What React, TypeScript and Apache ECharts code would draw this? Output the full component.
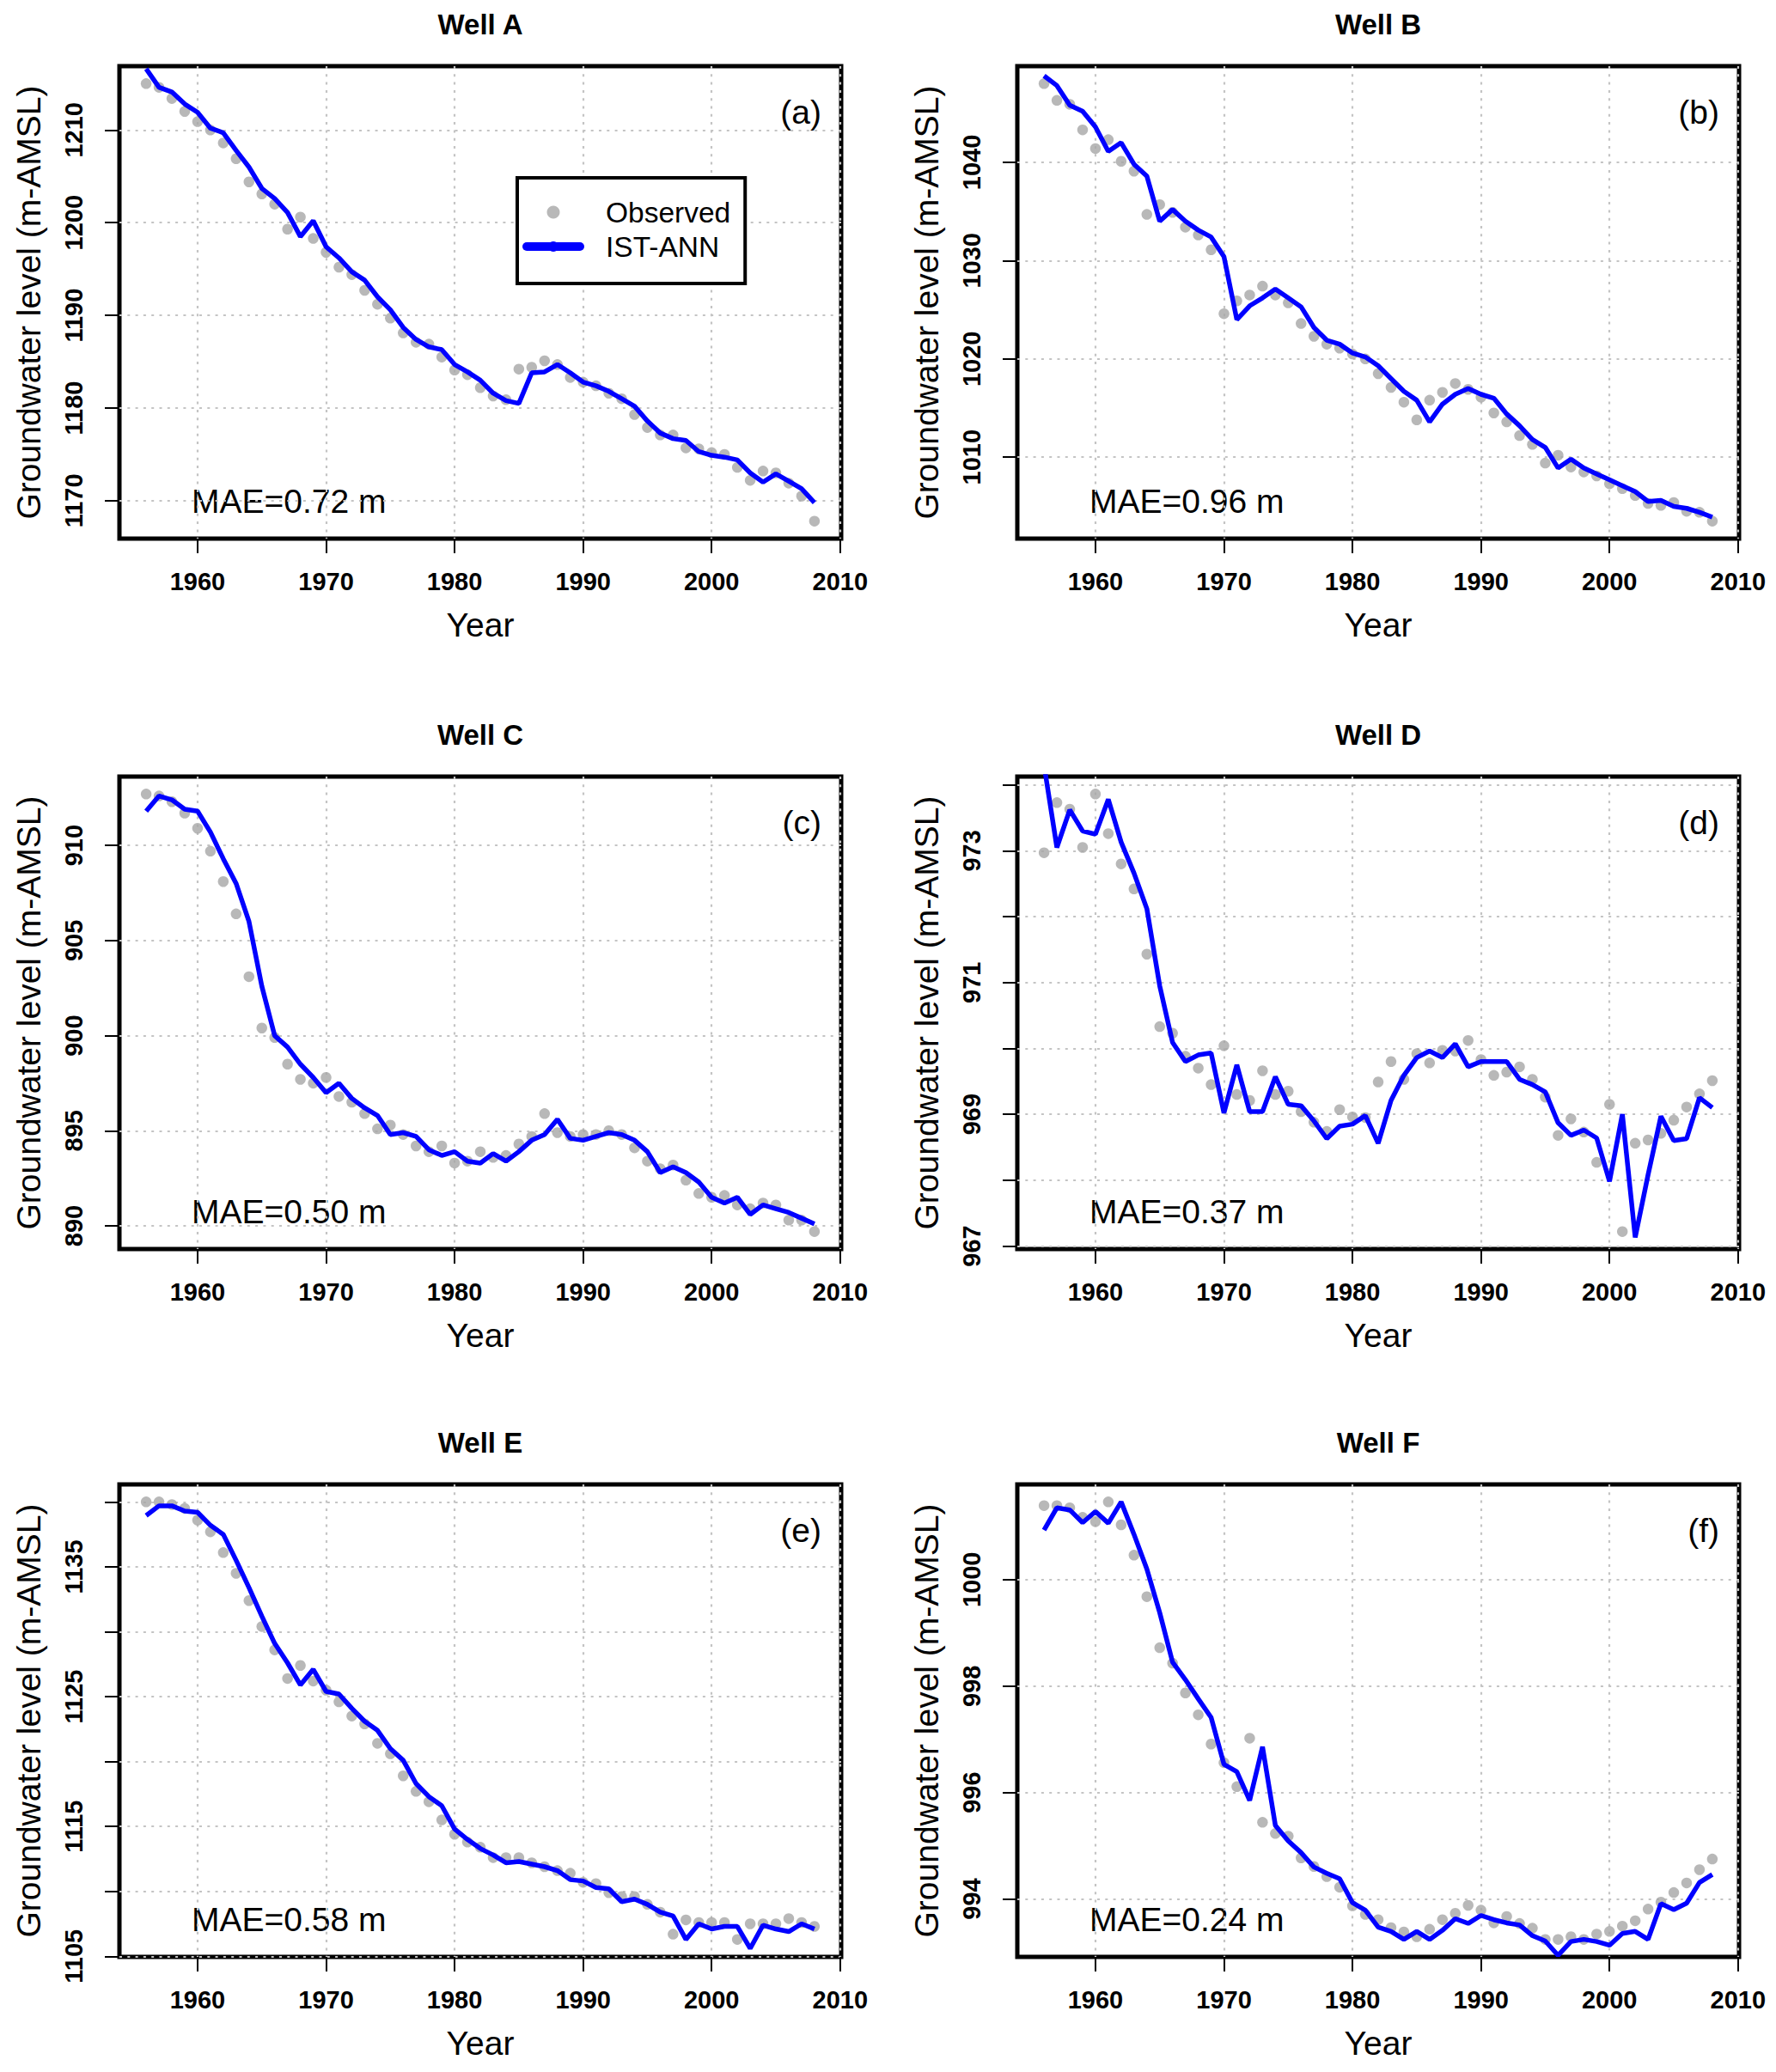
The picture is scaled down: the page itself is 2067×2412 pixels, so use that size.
import React, { useEffect, useRef } from "react";
import * as echarts from "echarts";

const years = [
  1956, 1957, 1958, 1959, 1960, 1961, 1962, 1963, 1964, 1965,
  1966, 1967, 1968, 1969, 1970, 1971, 1972, 1973, 1974, 1975,
  1976, 1977, 1978, 1979, 1980, 1981, 1982, 1983, 1984, 1985,
  1986, 1987, 1988, 1989, 1990, 1991, 1992, 1993, 1994, 1995,
  1996, 1997, 1998, 1999, 2000, 2001, 2002, 2003, 2004, 2005,
  2006, 2007, 2008,
];

const obsA = [1215.0,1214.6,1213.4,1212.0,1210.9,1210.0,1208.6,1206.9,1204.4,1203.1,1202.0,1199.3,1200.6,1198.3,1196.8,1195.2,1194.4,1192.7,1191.2,1189.7,1188.1,1187.1,1186.9,1185.5,1184.1,1183.6,1182.2,1181.3,1180.9,1184.2,1184.4,1185.1,1184.7,1183.3,1182.8,1182.4,1181.6,1181.0,1179.3,1177.9,1177.1,1177.1,1175.7,1175.6,1175.2,1175.0,1173.6,1172.2,1173.2,1173.0,1171.9,1170.5,1167.8];
const annA = [1216.6,1214.6,1214.1,1212.8,1211.9,1210.2,1209.7,1207.8,1206.0,1203.7,1202.6,1201.1,1198.5,1200.2,1197.4,1196.2,1194.7,1193.8,1192.0,1190.6,1188.7,1187.4,1186.6,1186.3,1184.7,1183.9,1183.0,1181.6,1180.8,1180.5,1183.8,1183.9,1184.7,1183.8,1182.8,1182.4,1181.8,1181.0,1180.2,1178.6,1177.3,1176.7,1176.5,1175.3,1174.9,1174.7,1174.4,1173.0,1172.0,1172.9,1172.1,1171.3,1169.8];

const obsB = [1048.0,1046.3,1045.9,1043.3,1041.4,1042.3,1040.1,1039.1,1034.7,1035.7,1034.9,1033.4,1032.6,1031.1,1024.6,1025.9,1026.5,1027.4,1026.5,1025.7,1023.6,1022.3,1021.5,1021.1,1020.5,1020.0,1018.5,1017.1,1015.6,1013.8,1015.8,1016.6,1017.5,1016.9,1016.1,1014.5,1013.6,1012.2,1011.3,1009.4,1010.2,1009.0,1008.5,1008.1,1007.3,1006.8,1006.1,1005.3,1005.1,1005.4,1004.5,1004.4,1003.5];
const annB = [1048.8,1047.8,1045.8,1045.2,1043.6,1041.1,1042.0,1039.8,1038.6,1034.0,1035.2,1034.0,1033.1,1032.4,1030.4,1024.0,1025.4,1026.2,1027.1,1026.2,1025.3,1023.2,1021.9,1021.5,1020.6,1020.2,1019.3,1018.0,1016.7,1015.8,1013.6,1015.4,1016.4,1017.0,1016.4,1016.0,1014.4,1013.2,1011.8,1011.0,1008.9,1009.8,1008.9,1008.3,1007.7,1007.1,1006.5,1005.5,1005.6,1005.0,1004.8,1004.4,1003.9];

const obsC = [912.7,912.6,912.3,911.7,910.9,909.7,908.1,906.4,903.1,900.4,899.9,898.5,897.7,897.5,897.8,896.8,896.5,895.9,895.1,895.3,894.8,894.2,893.9,894.2,893.3,893.4,893.9,893.6,893.7,894.3,894.7,895.9,894.9,894.7,894.8,894.8,895.0,894.8,894.1,893.4,893.0,893.2,892.4,891.7,891.5,891.6,891.1,890.9,891.2,891.1,890.3,890.3,889.7];
const annC = [911.8,912.6,912.4,911.9,911.8,910.7,909.3,908.0,906.0,902.6,900.0,899.4,898.5,897.8,897.0,897.5,896.7,896.2,895.8,894.8,894.9,894.7,894.0,893.7,893.9,893.4,893.3,893.8,893.4,893.9,894.5,894.8,895.6,894.6,894.5,894.7,894.9,894.8,894.5,893.9,892.8,893.1,892.8,892.3,891.5,891.2,891.5,890.6,891.1,890.9,890.7,890.4,890.1];

const obsD = [972.97,973.73,973.63,973.05,973.86,973.26,972.80,972.42,971.43,970.33,970.23,969.88,969.70,969.45,970.04,969.30,969.21,969.66,969.30,969.35,969.04,968.88,968.74,969.07,968.96,968.95,969.49,969.80,969.53,969.92,969.78,969.97,969.96,970.12,969.83,969.59,969.64,969.72,969.53,969.26,968.68,968.93,968.73,968.27,969.15,967.22,968.56,968.61,968.71,968.91,969.11,969.31,969.51];
const annD = [974.3,973.05,973.62,973.30,973.25,973.78,973.13,972.66,972.12,970.95,970.09,969.80,969.90,969.93,969.02,969.75,969.04,969.04,969.57,969.15,969.13,968.90,968.63,968.82,968.85,968.98,968.56,969.21,969.59,969.86,969.96,969.86,970.07,969.72,969.80,969.80,969.80,969.53,969.45,969.34,968.87,968.68,968.76,968.64,967.98,969.00,967.13,968.08,968.97,968.60,968.63,969.25,969.10];

const obsE = [1140.0,1140.0,1139.8,1139.5,1138.6,1137.7,1136.1,1134.5,1132.4,1130.4,1128.6,1126.4,1127.4,1126.2,1125.5,1124.6,1123.5,1122.9,1121.4,1120.6,1118.9,1117.7,1116.9,1115.5,1114.4,1113.8,1113.4,1112.6,1112.6,1112.6,1112.2,1111.9,1111.6,1111.4,1110.7,1110.6,1109.9,1109.6,1109.6,1109.0,1108.4,1106.7,1107.8,1107.6,1107.6,1107.6,1106.3,1107.5,1107.5,1107.5,1107.9,1107.6,1107.3];
const annE = [1138.95,1139.7,1139.7,1139.3,1139.2,1138.2,1137.5,1135.5,1133.4,1131.2,1129.1,1127.6,1125.9,1127.1,1125.4,1125.2,1124.1,1123.1,1122.4,1121.0,1120.1,1118.3,1117.3,1116.6,1114.8,1114.0,1113.3,1112.8,1112.2,1112.3,1112.1,1111.9,1111.6,1110.9,1110.8,1110.3,1110.2,1109.2,1109.4,1109.0,1108.4,1108.1,1106.3,1107.5,1107.1,1107.3,1107.3,1105.6,1107.4,1107.1,1106.9,1107.5,1107.1];

const obsF = [1001.39,1001.39,1001.35,1001.17,1001.09,1001.46,1001.03,1000.46,999.68,998.72,998.43,997.87,997.46,996.91,996.56,996.11,997.02,995.44,995.23,995.18,994.77,994.61,994.42,994.22,993.87,993.71,993.61,993.46,993.38,993.29,993.43,993.61,993.73,993.88,993.79,993.55,993.67,993.54,993.45,993.24,993.24,993.29,993.24,993.34,993.39,993.49,993.59,993.81,993.94,994.12,994.30,994.55,994.75];
const annF = [1000.93,1001.35,1001.31,1001.07,1001.28,1001.06,1001.46,1000.85,1000.20,999.38,998.45,998.12,997.76,997.41,996.53,996.39,995.85,996.86,995.38,995.09,994.87,994.60,994.48,994.38,993.93,993.79,993.47,993.39,993.24,993.39,993.24,993.41,993.63,993.54,993.69,993.61,993.55,993.51,993.31,993.21,992.94,993.20,993.24,993.20,993.13,993.35,993.39,993.24,993.91,993.80,993.92,994.31,994.46];

const xTicks = [1960, 1970, 1980, 1990, 2000, 2010];
const yTicksA = [1170, 1180, 1190, 1200, 1210];
const yTicksB = [1010, 1020, 1030, 1040];
const yTicksC = [890, 895, 900, 905, 910];
const yTicksD = [967, 968, 969, 970, 971, 972, 973, 974];
const yLabelsD = [967, 969, 971, 973];
const yTicksE = [1105, 1110, 1115, 1120, 1125, 1130, 1135, 1140];
const yLabelsE = [1105, 1115, 1125, 1135];
const yTicksF = [994, 996, 998, 1000];

const wellTitles = ["Well A", "Well B", "Well C", "Well D", "Well E", "Well F"];
const panelLetters = ["(a)", "(b)", "(c)", "(d)", "(e)", "(f)"];
const maeTexts = ["MAE=0.72 m", "MAE=0.96 m", "MAE=0.50 m", "MAE=0.37 m", "MAE=0.58 m", "MAE=0.24 m"];
const seriesNames = ["Observed", "IST-ANN"];

const obsAll = [obsA, obsB, obsC, obsD, obsE, obsF];
const annAll = [annA, annB, annC, annD, annE, annF];
const yTickAll = [yTicksA, yTicksB, yTicksC, yTicksD, yTicksE, yTicksF];
const yLabelAll = [yTicksA, yTicksB, yTicksC, yLabelsD, yLabelsE, yTicksF];

const FONT = '"Liberation Sans", Arial, Helvetica, sans-serif';
const colLeft = [139, 1184];
const rowTop = [77, 904, 1728];
const gridW = 840;
const gridH = 550;

function rangeR(vals: number[]): [number, number] {
  const lo = Math.min(...vals);
  const hi = Math.max(...vals);
  const pad = (hi - lo) * 0.04;
  return [lo - pad, hi + pad];
}

export default function App() {
  const ref = useRef<HTMLDivElement>(null);
  useEffect(() => {
    document.body.style.margin = "0";
    document.body.style.overflow = "hidden";
    if (!ref.current) return;
    const chart = echarts.init(ref.current, undefined, { renderer: "svg" });
    const xr = rangeR(years);
    const grids: any[] = [];
    const xAxes: any[] = [];
    const yAxes: any[] = [];
    const series: any[] = [];
    const graphics: any[] = [];
    const gridLineStyle = { color: "#c4c4c4", width: 2.2, type: [3, 6.3] };
    for (let i = 0; i < 6; i++) {
      const left = colLeft[i % 2];
      const top = rowTop[Math.floor(i / 2)];
      grids.push({
        left, top, width: gridW, height: gridH,
        show: true, borderColor: "#000", borderWidth: 5,
        backgroundColor: "transparent", containLabel: false,
      });
      xAxes.push({
        type: "value", gridIndex: i, min: xr[0], max: xr[1],
        name: "Year", nameLocation: "middle", nameGap: 81,
        nameTextStyle: { fontSize: 39, fontFamily: FONT, color: "#000" },
        axisLine: { show: false },
        axisTick: { show: true, inside: false, length: 17, customValues: xTicks, lineStyle: { color: "#000", width: 2 } },
        axisLabel: { customValues: xTicks, margin: 35, fontSize: 29, fontWeight: "bold", fontFamily: FONT, color: "#000", formatter: (v: number) => String(v) },
        splitLine: { show: true, lineStyle: gridLineStyle },
      });
      const yr = rangeR(obsAll[i]);
      yAxes.push({
        type: "value", gridIndex: i, min: yr[0], max: yr[1],
        name: "Groundwater level (m-AMSL)", nameLocation: "middle", nameGap: 86, nameRotate: 90,
        nameTextStyle: { fontSize: 39, fontFamily: FONT, color: "#000" },
        axisLine: { show: false },
        axisTick: { show: true, inside: false, length: 17, customValues: yTickAll[i], lineStyle: { color: "#000", width: 2 } },
        axisLabel: { customValues: yLabelAll[i], rotate: 90, margin: 39, fontSize: 29, fontWeight: "bold", fontFamily: FONT, color: "#000", formatter: (v: number) => String(Math.round(v)) },
        splitLine: { show: true, lineStyle: gridLineStyle },
      });
      series.push({
        type: "scatter", name: seriesNames[0], xAxisIndex: i, yAxisIndex: i,
        data: years.map((y, k) => [y, obsAll[i][k]]),
        symbol: "circle", symbolSize: 12.5,
        itemStyle: { color: "#a6a6a6" }, z: 2, silent: true,
      });
      series.push({
        type: "line", name: seriesNames[1], xAxisIndex: i, yAxisIndex: i,
        data: years.map((y, k) => [y, annAll[i][k]]),
        symbol: "none", showSymbol: false, clip: true,
        lineStyle: { color: "#0000ff", width: 5.5 }, itemStyle: { color: "#0000ff" }, z: 3, silent: true,
      });
      graphics.push({
        type: "text", x: left + gridW / 2, y: top - 49,
        style: { text: wellTitles[i], fill: "#000", font: `bold 33px ${FONT}`, align: "center", verticalAlign: "middle", textAlign: "center", textVerticalAlign: "middle" },
      });
      graphics.push({
        type: "text", x: left + gridW - 23, y: top + 53,
        style: { text: panelLetters[i], fill: "#000", font: `39px ${FONT}`, align: "right", verticalAlign: "middle", textAlign: "right", textVerticalAlign: "middle" },
      });
      graphics.push({
        type: "text", x: left + 84, y: top + gridH - 44,
        style: { text: maeTexts[i], fill: "#000", font: `39px ${FONT}`, align: "left", verticalAlign: "middle", textAlign: "left", textVerticalAlign: "middle" },
      });
    }
    chart.setOption({
      animation: false,
      backgroundColor: "#fff",
      grid: grids,
      xAxis: xAxes,
      yAxis: yAxes,
      series,
      graphic: graphics,
      legend: {
        data: [
          { name: seriesNames[0], icon: "circle" },
          { name: seriesNames[1], lineStyle: { width: 10, cap: "round" } },
        ],
        orient: "vertical", left: 602, top: 207,
        itemWidth: 62, itemHeight: 15, itemGap: 0,
        padding: [20, 17, 23, 6],
        borderColor: "#000", borderWidth: 4, backgroundColor: "#fff",
        selectedMode: false,
        textStyle: { fontSize: 33.5, lineHeight: 40, fontFamily: FONT, color: "#000", padding: [0, 0, 0, 25] },
      },
    });
    return () => chart.dispose();
  }, []);
  return <div ref={ref} style={{ width: 2067, height: 2412 }} />;
}
